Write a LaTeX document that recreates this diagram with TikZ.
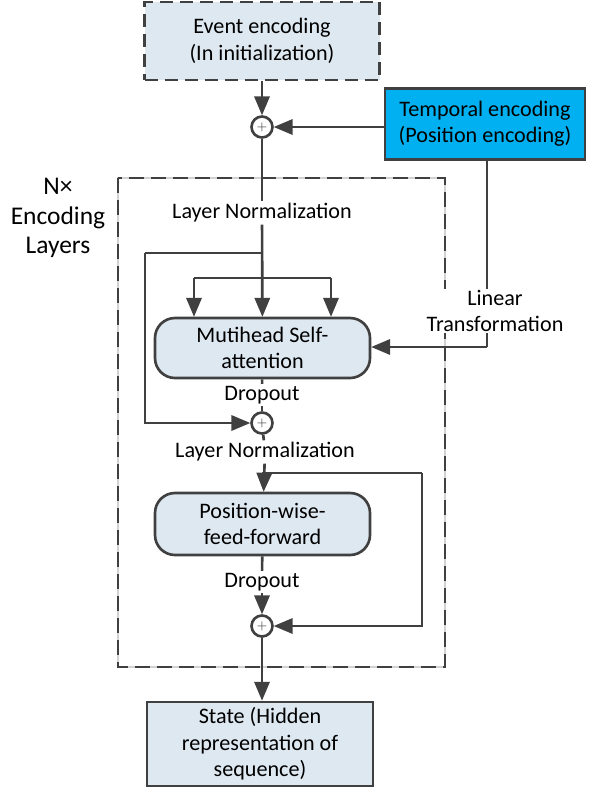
\documentclass[tikz,border=0pt]{standalone}
\usepackage{fontspec}
\setmainfont{Carlito}
\usepackage{tikz}
\usetikzlibrary{positioning}
\usetikzlibrary{shapes,arrows}
\definecolor{boxfill}{HTML}{DEE8F1}
\definecolor{tempfill}{HTML}{00B0F0}
\definecolor{linegray}{HTML}{404040}
\tikzset{%
  block/.style    = {draw=linegray, line width=1.5pt, rectangle, fill=boxfill,
    align=center, font=\fontsize{12.6}{15}\selectfont},
  dashblock/.style = {block, dash pattern=on 0.26cm off 0.14cm},
  roundblock/.style = {block, rounded corners=0.4cm},
  sum/.style      = {draw=linegray, line width=1.5pt, circle, fill=white,
    minimum size=0.42cm, inner sep=0pt, font=\scriptsize}, % Adder
  label/.style    = {fill=white, inner sep=0.5pt, align=center,
    font=\fontsize{12.6}{15}\selectfont},
  input/.style    = {coordinate}, % branch point
}

\begin{document}
\begin{tikzpicture}[auto, >=triangle 45, line width=1.5pt, color=linegray]
  \useasboundingbox (0,0) rectangle (11.84,-15.76);

  % encoding layers frame
  \draw[gray!35, line width=1pt] (2.36,-3.56) rectangle (8.9,-13.34);
  \draw[linegray, line width=1.3pt, dash pattern=on 0.3cm off 0.14cm] (2.36,-3.56) rectangle (8.9,-13.34);
  \draw node at (1.16,-4.36) [black, align=center, font=\fontsize{14.5}{16.8}\selectfont] (nx) {N×\\Encoding\\Layers};

  \draw node at (5.24,-0.82) [dashblock, text=black, minimum width=4.7cm, minimum height=1.56cm] (event) {Event encoding\\(In initialization)};
  \draw node at (5.24,-2.54) [sum] (sum1) {$+$};
  \draw node at (9.7,-2.48) [block, text=black, fill=tempfill, minimum width=4cm, minimum height=1.42cm] (temp) {Temporal encoding\\(Position encoding)};

  \draw node at (5.24,-4.26) [label, text=black] (norm1) {Layer Normalization};
  \draw node at (5.25,-6.96) [roundblock, text=black, minimum width=4.3cm, minimum height=1.2cm] (attn) {Mutihead Self-\\attention};
  \draw node at (5.24,-7.9) [label, text=black] (drop1) {Dropout};
  \draw node at (5.24,-8.46) [sum] (sum2) {$+$};
  \draw node at (5.3,-9.04) [label, text=black] (norm2) {Layer Normalization};
  \draw node at (5.25,-10.48) [roundblock, text=black, minimum width=4.3cm, minimum height=1.24cm] (ffn) {Position-wise-\\feed-forward};
  \draw node at (5.24,-11.64) [label, text=black] (drop2) {Dropout};
  \draw node at (5.24,-12.52) [sum] (sum3) {$+$};
  \draw node at (5.2,-14.88) [block, text=black, minimum width=4.52cm, minimum height=1.56cm] (state) {State (Hidden\\representation of\\sequence)};

  \draw node at (5.24,-5.06) [input] (res1) {};
  \draw node at (2.9,-5.06) [input] (res1l) {};
  \draw node at (5.24,-5.56) [input] (qkv) {};
  \draw node at (3.88,-5.56) [input] (qkvl) {};
  \draw node at (6.62,-5.56) [input] (qkvr) {};
  \draw node at (5.24,-9.46) [input] (res2) {};
  \draw node at (8.44,-9.46) [input] (res2r) {};
  \draw node at (9.74,-6.94) [input] (lin) {};

  \draw[->] (event) -- (sum1);
  \draw[->] (temp.west |- sum1) -- (sum1);
  \draw (sum1) -- (norm1);
  \draw[->] (norm1) -- (attn);
  \draw (res1) -- (res1l);
  \draw[->] (res1l) |- (sum2);
  \draw (qkvl) -- (qkvr);
  \draw[->] (qkvl) -- (qkvl |- attn.north);
  \draw[->] (qkvr) -- (qkvr |- attn.north);
  \draw (temp.south -| lin) -- (lin);
  \draw[->] (lin) -- (attn.east |- lin);
  \draw node at (9.9,-6.22) [label, text=black] (linear) {Linear\\Transformation};

  \draw (attn) -- (drop1);
  \draw (drop1) -- (sum2);
  \draw (sum2) -- (norm2);
  \draw[->] (norm2) -- (ffn);
  \draw (res2) -- (res2r);
  \draw[->] (res2r) |- (sum3);
  \draw (ffn) -- (drop2);
  \draw[->] (drop2) -- (sum3);
  \draw[->] (sum3) -- (sum3 |- state.north);
\end{tikzpicture}
\end{document}
